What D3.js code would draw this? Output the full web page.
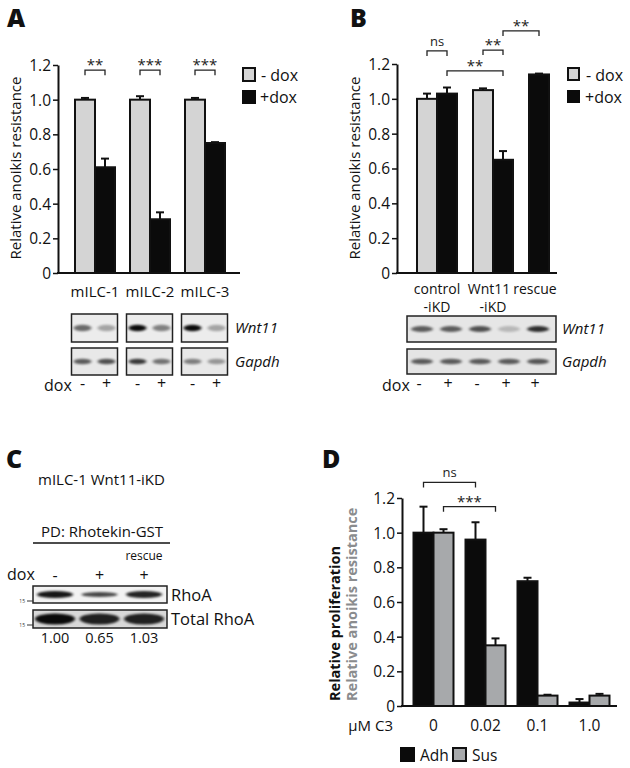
<!DOCTYPE html>
<html><head><meta charset="utf-8">
<script src="https://cdn.jsdelivr.net/npm/d3@7"></script>
<style>
body{margin:0;background:#fff;}
svg{display:block;font-family:"Open Sans",sans-serif;}
</style></head>
<body><svg id="fig" width="630" height="768"></svg>
<script>
// ---------- DATA ----------
const yTicks = [0, 0.2, 0.4, 0.6, 0.8, 1.0, 1.2];
const yTickLabels = ["0", "0.2", "0.4", "0.6", "0.8", "1.0", "1.2"];

// Panel A
const A_cats = ["mILC-1", "mILC-2", "mILC-3"];
const A_minus = [1.00, 1.00, 1.00];
const A_minusErr = [0.01, 0.02, 0.01];
const A_plus = [0.61, 0.31, 0.75];
const A_plusErr = [0.05, 0.04, 0.005];
const A_sig = ["**", "***", "***"];
const A_sigLevel = [1.17, 1.17, 1.17];
const A_wnt11 = [0.55, 0.3, 0.95, 0.45, 0.95, 0.3];
const A_gapdh = [0.6, 0.65, 0.75, 0.5, 0.45, 0.35];
const A_dox = ["-", "+", "-", "+", "-", "+"];

// Panel B
const B_cats = ["control", "Wnt11", "rescue"];
const B_catLabels = [["control", "-iKD"], ["Wnt11", "-iKD"], ["rescue"]];
const B_minus = [1.00, 1.05, null];
const B_minusErr = [0.03, 0.01, null];
const B_plus = [1.03, 0.65, 1.14];
const B_plusErr = [0.035, 0.05, 0.005];
const B_sig = [
  {from: ["control", "-"], to: ["control", "+"], label: "ns", level: 1.275},
  {from: ["control", "+"], to: ["Wnt11", "+"], label: "**", level: 1.16},
  {from: ["Wnt11", "-"], to: ["Wnt11", "+"], label: "**", level: 1.28},
  {from: ["Wnt11", "+"], to: ["rescue", "+"], label: "**", level: 1.39}
];
const B_lanes = ["l1", "l2", "l3", "l4", "l5"];
const B_dox = ["-", "+", "-", "+", "+"];
const B_wnt11 = [0.6, 0.6, 0.65, 0.2, 0.8];
const B_gapdh = [0.6, 0.6, 0.6, 0.6, 0.62];

// Panel C
const C_lanes = ["-", "+", "+"];
const C_laneTop = ["", "", "rescue"];
const C_rhoa = [0.9, 0.7, 0.85];
const C_rhoaThick = [1.0, 0.7, 0.95];
const C_total = [0.95, 0.85, 0.85];
const C_quant = ["1.00", "0.65", "1.03"];

// Panel D
const D_doses = ["0", "0.02", "0.1", "1.0"];
const D_adh = [1.00, 0.96, 0.72, 0.02];
const D_adhErr = [0.15, 0.10, 0.02, 0.02];
const D_sus = [1.00, 0.35, 0.06, 0.06];
const D_susErr = [0.02, 0.04, 0.005, 0.01];
const D_sig = [
  {from: ["0", "adh"], to: ["0.02", "adh"], label: "ns", level: 1.29},
  {from: ["0", "sus"], to: ["0.02", "sus"], label: "***", level: 1.15}
];

// ---------- STYLE ----------
const LIGHT = "#d4d4d4", DARKG = "#a7a9ab", BLACK = "#0b0b0b";
const svg = d3.select("#fig");

const defs = svg.append("defs");
defs.append("filter").attr("id", "blur").attr("x", "-50%").attr("y", "-100%").attr("width", "200%").attr("height", "300%")
  .append("feGaussianBlur").attr("stdDeviation", "1.8 1.1");

function panelLetter(t, x, y) {
  svg.append("text").attr("x", x).attr("y", y).text(t)
    .attr("font-size", 25).attr("font-weight", 800).attr("fill", "#111");
}

function yAxis(g, y, x0) {
  const ax = d3.axisLeft(y).tickValues(yTicks).tickFormat((d, i) => yTickLabels[i]).tickSize(5).tickSizeOuter(0);
  const a = g.append("g").attr("transform", `translate(${x0},0)`).call(ax);
  a.select(".domain").attr("stroke", "#111").attr("stroke-width", 2);
  a.selectAll(".tick line").attr("stroke", "#111").attr("stroke-width", 1.5);
  a.selectAll(".tick text").attr("font-size", 15.5).attr("font-family", "Open Sans").attr("fill", "#111").attr("x", -7).attr("dy", "0.35em");
}

function xLine(g, y0, x0, x1) {
  g.append("line").attr("x1", x0 - 1).attr("x2", x1).attr("y1", y0).attr("y2", y0)
    .attr("stroke", "#111").attr("stroke-width", 2);
}

function drawBar(g, x, w, y, v, err, fill) {
  if (err != null) {
    const yt = y(v + err), cx = x + w / 2;
    g.append("line").attr("x1", cx).attr("x2", cx).attr("y1", y(v)).attr("y2", yt).attr("stroke", "#111").attr("stroke-width", 2);
    g.append("line").attr("x1", cx - 4).attr("x2", cx + 4).attr("y1", yt).attr("y2", yt).attr("stroke", "#111").attr("stroke-width", 2);
  }
  g.append("rect").attr("x", x).attr("y", y(v)).attr("width", w).attr("height", y(0) - y(v))
    .attr("fill", fill).attr("stroke", "#111").attr("stroke-width", 2);
}

function bracket(g, xa, xb, yl, label) {
  g.append("path").attr("d", `M${xa},${yl + 5}V${yl}H${xb}V${yl + 5}`)
    .attr("fill", "none").attr("stroke", "#222").attr("stroke-width", 1.3);
  g.append("text").attr("x", (xa + xb) / 2).attr("y", yl - (label === "ns" ? 5 : 0)).attr("text-anchor", "middle")
    .attr("font-size", label === "ns" ? 13 : 15).attr("fill", "#222").text(label);
}

function yLabel(g, text, x, yc, size, color, weight, anchor) {
  g.append("text").attr("transform", `translate(${x},${yc}) rotate(-90)`).attr("text-anchor", anchor || "middle")
    .attr("font-size", size).attr("fill", color).attr("font-weight", weight || 400).text(text);
}

function blot(g, x0, y0, w, h, lanesX, intens, bg, rx, ry, thick) {
  g.append("rect").attr("x", x0).attr("y", y0).attr("width", w).attr("height", h).attr("fill", bg);
  lanesX.forEach((lx, i) => {
    g.append("ellipse").attr("cx", lx).attr("cy", y0 + h / 2).attr("rx", rx).attr("ry", ry * (thick ? thick[i] : 1))
      .attr("fill", "#000").attr("opacity", intens[i]).attr("filter", "url(#blur)");
  });
  g.append("rect").attr("x", x0).attr("y", y0).attr("width", w).attr("height", h).attr("fill", "none")
    .attr("stroke", "#222").attr("stroke-width", 1.5);
}

// ---------- PANEL A ----------
(function () {
  const g = svg.append("g");
  panelLetter("A", 7, 27);
  const y = d3.scaleLinear().domain([0, 1.2]).range([273, 65]);
  const x = d3.scaleBand().domain(A_cats).range([67.5, 232.5]);
  const s = d3.scaleBand().domain(["-", "+"]).range([0, 40]);
  A_cats.forEach((c, i) => {
    const gx = x(c) + x.bandwidth() / 2 - 20;
    drawBar(g, gx + s("-"), s.bandwidth(), y, A_minus[i], A_minusErr[i], LIGHT);
    drawBar(g, gx + s("+"), s.bandwidth(), y, A_plus[i], A_plusErr[i], BLACK);
    bracket(g, gx + s("-") + 10, gx + s("+") + 10, y(A_sigLevel[i]), A_sig[i]);
    g.append("text").attr("x", gx + 20).attr("y", 297).attr("text-anchor", "middle").attr("font-size", 15).attr("fill", "#111").text(c);
  });
  yAxis(g, y, 58);
  xLine(g, 273, 58, 240);
  yLabel(g, "Relative anoikis resistance", 21, 168, 15, "#111");
  // legend
  g.append("rect").attr("x", 243).attr("y", 68).attr("width", 12).attr("height", 13).attr("fill", LIGHT).attr("stroke", "#111").attr("stroke-width", 2);
  g.append("rect").attr("x", 242).attr("y", 90).attr("width", 14).attr("height", 14).attr("fill", BLACK);
  g.append("text").attr("x", 261).attr("y", 81).attr("font-size", 16).attr("fill", "#111").text("- dox");
  g.append("text").attr("x", 260).attr("y", 103).attr("font-size", 16).attr("fill", "#111").text("+dox");
  // blots
  const lane = d3.scalePoint().domain([0, 1]).range([-12, 12]);
  A_cats.forEach((c, i) => {
    const cx = x(c) + x.bandwidth() / 2 - 0.5;
    const lx = [cx + lane(0), cx + lane(1)];
    blot(g, cx - 23, 314, 46, 28, lx, [A_wnt11[2 * i], A_wnt11[2 * i + 1]], "#ececec", 9, 3.2);
    blot(g, cx - 23, 348, 46, 27, lx, [A_gapdh[2 * i], A_gapdh[2 * i + 1]], "#e8e8e8", 9, 2.8);
    lx.forEach((xx, j) => g.append("text").attr("x", xx).attr("y", 389).attr("text-anchor", "middle").attr("font-size", 16).attr("fill", "#111").text(A_dox[2 * i + j]));
  });
  g.append("text").attr("x", 235).attr("y", 333).attr("font-size", 15).attr("font-style", "italic").attr("fill", "#111").text("Wnt11");
  g.append("text").attr("x", 235).attr("y", 367).attr("font-size", 15).attr("font-style", "italic").attr("fill", "#111").text("Gapdh");
  g.append("text").attr("x", 44).attr("y", 391).attr("font-size", 16).attr("fill", "#111").text("dox");
})();

// ---------- PANEL B ----------
(function () {
  const g = svg.append("g");
  panelLetter("B", 350, 27);
  const y = d3.scaleLinear().domain([0, 1.2]).range([273, 64]);
  const x = d3.scaleBand().domain(B_cats).range([409, 577]);
  const s = d3.scaleBand().domain(["-", "+"]).range([0, 40]);
  const barX = (c, k) => {
    const i = B_cats.indexOf(c);
    const slot = (B_minus[i] == null) ? "-" : k;
    return x(c) + x.bandwidth() / 2 - 20 + s(slot);
  };
  B_cats.forEach((c, i) => {
    if (B_minus[i] != null) drawBar(g, barX(c, "-"), 20, y, B_minus[i], B_minusErr[i], LIGHT);
    drawBar(g, barX(c, "+"), 20, y, B_plus[i], B_plusErr[i], BLACK);
    const cx = (B_minus[i] == null) ? barX(c, "+") + 6 : x(c) + x.bandwidth() / 2 - (i === 1 ? 4 : 0);
    B_catLabels[i].forEach((t, j) => g.append("text").attr("x", j === 1 ? x(c) + x.bandwidth() / 2 : cx)
      .attr("y", 294 + j * 18).attr("text-anchor", "middle").attr("font-size", 14).attr("fill", "#111").text(t));
  });
  B_sig.forEach(b => bracket(g, barX(b.from[0], b.from[1]) + 10, barX(b.to[0], b.to[1]) + 10, y(b.level), b.label));
  yAxis(g, y, 397);
  xLine(g, 273, 397, 557);
  yLabel(g, "Relative anoikis resistance", 360, 168, 15, "#111");
  g.append("rect").attr("x", 568).attr("y", 68).attr("width", 11).attr("height", 12).attr("fill", LIGHT).attr("stroke", "#111").attr("stroke-width", 2);
  g.append("rect").attr("x", 567).attr("y", 90).attr("width", 13).attr("height", 13).attr("fill", BLACK);
  g.append("text").attr("x", 586).attr("y", 81).attr("font-size", 16).attr("fill", "#111").text("- dox");
  g.append("text").attr("x", 585).attr("y", 103).attr("font-size", 16).attr("fill", "#111").text("+dox");
  // blots
  const lx = d3.scalePoint().domain(B_lanes).range([422, 538]);
  const lanesX = B_lanes.map(l => lx(l));
  blot(g, 407, 316, 149, 26, lanesX, B_wnt11, "#e6e6e6", 11, 3);
  blot(g, 407, 349, 149, 25, lanesX, B_gapdh, "#e4e4e4", 11, 2.8);
  g.append("text").attr("x", 562).attr("y", 334).attr("font-size", 15).attr("font-style", "italic").attr("fill", "#111").text("Wnt11");
  g.append("text").attr("x", 562).attr("y", 367).attr("font-size", 15).attr("font-style", "italic").attr("fill", "#111").text("Gapdh");
  g.append("text").attr("x", 382).attr("y", 391).attr("font-size", 16).attr("fill", "#111").text("dox");
  B_lanes.forEach((l, i) => g.append("text").attr("x", lx(l) - 3).attr("y", 389).attr("text-anchor", "middle").attr("font-size", 16).attr("fill", "#111").text(B_dox[i]));
})();

// ---------- PANEL C ----------
(function () {
  const g = svg.append("g");
  panelLetter("C", 6, 468);
  g.append("text").attr("x", 38).attr("y", 485).attr("font-size", 15).attr("fill", "#111").text("mILC-1 Wnt11-iKD");
  g.append("text").attr("x", 41).attr("y", 537).attr("font-size", 15).attr("fill", "#111").text("PD: Rhotekin-GST");
  g.append("line").attr("x1", 33).attr("x2", 170).attr("y1", 543).attr("y2", 543).attr("stroke", "#111").attr("stroke-width", 1.3);
  const lx = d3.scalePoint().domain([0, 1, 2]).range([55, 144]);
  const lanesX = [0, 1, 2].map(i => lx(i));
  g.append("text").attr("x", 7).attr("y", 580).attr("font-size", 16).attr("fill", "#111").text("dox");
  C_lanes.forEach((t, i) => {
    g.append("text").attr("x", lanesX[i]).attr("y", 581).attr("text-anchor", "middle").attr("font-size", 16).attr("fill", "#111").text(t);
    if (C_laneTop[i]) g.append("text").attr("x", lanesX[i]).attr("y", 560).attr("text-anchor", "middle").attr("font-size", 12).attr("fill", "#111").text(C_laneTop[i]);
  });
  blot(g, 33, 586, 134, 17, lanesX, C_rhoa, "#f2f2f2", 18, 3.6, C_rhoaThick);
  blot(g, 33, 610, 134, 18, lanesX, C_total, "#d8d8d8", 20, 5.5);
  g.append("text").attr("x", 171).attr("y", 601).attr("font-size", 16.5).attr("fill", "#111").text("RhoA");
  g.append("text").attr("x", 171).attr("y", 625).attr("font-size", 16.5).attr("fill", "#111").text("Total RhoA");
  [601, 625].forEach(yy => {
    g.append("text").attr("x", 25).attr("y", yy + 2).attr("text-anchor", "end").attr("font-size", 5).attr("fill", "#333").text("15");
    g.append("line").attr("x1", 27).attr("x2", 33).attr("y1", yy).attr("y2", yy).attr("stroke", "#333").attr("stroke-width", 1);
  });
  C_quant.forEach((t, i) => g.append("text").attr("x", lanesX[i]).attr("y", 643).attr("text-anchor", "middle").attr("font-size", 14.5).attr("fill", "#111").text(t));
})();

// ---------- PANEL D ----------
(function () {
  const g = svg.append("g");
  panelLetter("D", 322, 468);
  const y = d3.scaleLinear().domain([0, 1.2]).range([706, 498]);
  const x = d3.scaleBand().domain(D_doses).range([407.5, 615.5]);
  const s = d3.scaleBand().domain(["adh", "sus"]).range([0, 40]);
  const barX = (d, k) => x(d) + x.bandwidth() / 2 - 20 + s(k);
  D_doses.forEach((d, i) => {
    drawBar(g, barX(d, "adh"), 20, y, D_adh[i], D_adhErr[i], BLACK);
    drawBar(g, barX(d, "sus"), 20, y, D_sus[i], D_susErr[i], DARKG);
    g.append("text").attr("x", x(d) + x.bandwidth() / 2).attr("y", 731).attr("text-anchor", "middle").attr("font-size", 15.5).attr("fill", "#111").text(d);
  });
  D_sig.forEach(b => bracket(g, barX(b.from[0], b.from[1]) + 10, barX(b.to[0], b.to[1]) + 10, y(b.level), b.label));
  yAxis(g, y, 402);
  xLine(g, 706, 402, 617);
  g.append("text").attr("x", 393).attr("y", 731).attr("text-anchor", "end").attr("font-size", 15).attr("fill", "#111").text("µM C3");
  yLabel(g, "Relative proliferation", 340, 701, 14.5, "#111", 700, "start");
  yLabel(g, "Relative anoikis resistance", 357, 701, 14.5, "#8a8c8e", 700, "start");
  g.append("rect").attr("x", 400).attr("y", 747).attr("width", 15).attr("height", 15).attr("fill", BLACK);
  g.append("text").attr("x", 420).attr("y", 761).attr("font-size", 15.5).attr("fill", "#111").text("Adh");
  g.append("rect").attr("x", 453).attr("y", 748).attr("width", 13).attr("height", 13).attr("fill", DARKG).attr("stroke", "#111").attr("stroke-width", 2);
  g.append("text").attr("x", 472).attr("y", 761).attr("font-size", 15.5).attr("fill", "#111").text("Sus");
})();
</script>
</body></html>
